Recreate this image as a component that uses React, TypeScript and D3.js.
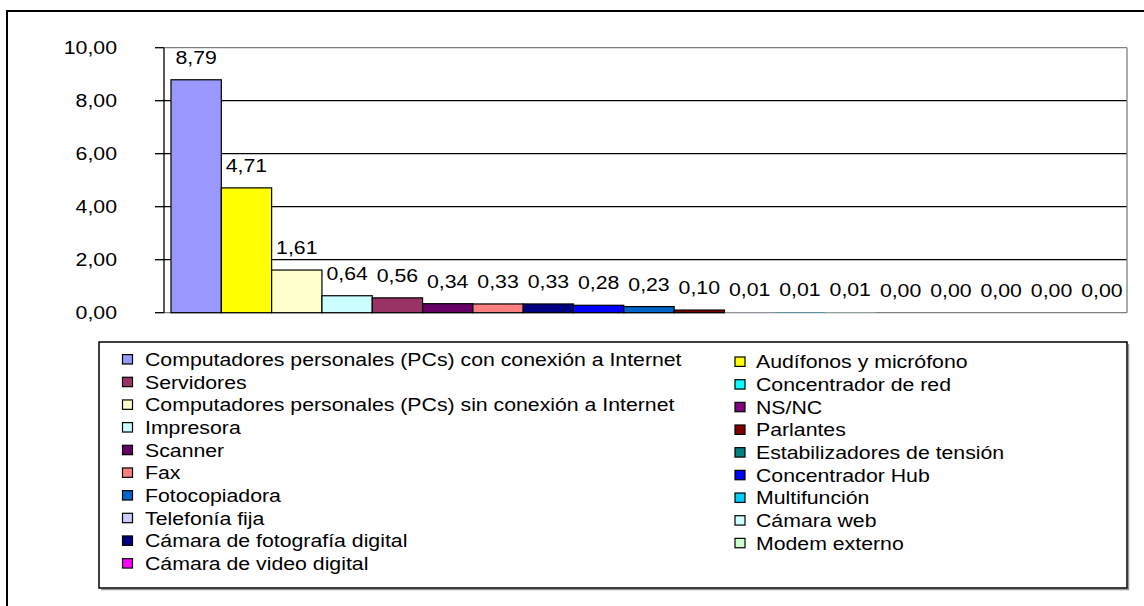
import * as d3 from "d3";

// bars, left to right
const categories = [
  "Computadores personales (PCs) con conexión a Internet",
  "Audífonos y micrófono",
  "Computadores personales (PCs) sin conexión a Internet",
  "Impresora",
  "Servidores",
  "Scanner",
  "Fax",
  "Cámara de fotografía digital",
  "Concentrador Hub",
  "Fotocopiadora",
  "Parlantes",
  "Telefonía fija",
  "Multifunción",
  "Cámara web",
  "Concentrador de red",
  "NS/NC",
  "Estabilizadores de tensión",
  "Cámara de video digital",
  "Modem externo",
];
const values = [8.79, 4.71, 1.61, 0.64, 0.56, 0.34, 0.33, 0.33, 0.28, 0.23, 0.1, 0.01, 0.01, 0.01, 0, 0, 0, 0, 0];
const colors = [
  "#9999FF", "#FFFF00", "#FFFFCC", "#CCFFFF", "#993366", "#660066", "#FF8080",
  "#000080", "#0000FF", "#0066CC", "#800000", "#CCCCFF", "#00CCFF", "#CCFFFF",
  "#00FFFF", "#800080", "#008080", "#FF00FF", "#CCFFCC",
];

// legend columns
const legendLeft = [
  "Computadores personales (PCs) con conexión a Internet",
  "Servidores",
  "Computadores personales (PCs) sin conexión a Internet",
  "Impresora",
  "Scanner",
  "Fax",
  "Fotocopiadora",
  "Telefonía fija",
  "Cámara de fotografía digital",
  "Cámara de video digital",
];
const legendRight = [
  "Audífonos y micrófono",
  "Concentrador de red",
  "NS/NC",
  "Parlantes",
  "Estabilizadores de tensión",
  "Concentrador Hub",
  "Multifunción",
  "Cámara web",
  "Modem externo",
];

const yTicks = [0, 2, 4, 6, 8, 10];

const W = 1144;
const H = 606;
const plot = { left: 164, right: 1127, top: 47.7, bottom: 312.7 };
const FONT = "'Liberation Sans', Arial, sans-serif";
const FS = 18.5;
const SX = 1.15; // the original picture is stretched horizontally

const fmt = d3.formatLocale({ decimal: ",", thousands: ".", grouping: [3], currency: ["", ""] }).format(".2f");

function T({ x, y, anchor = "start", children }) {
  return (
    <text
      transform={`translate(${x},${y}) scale(${SX},1)`}
      textAnchor={anchor}
      fontFamily={FONT}
      fontSize={FS}
      fill="#000"
    >
      {children}
    </text>
  );
}

export default function App() {
  const x = d3.scaleBand().domain(categories).range([171, plot.right]).padding(0);
  const y = d3.scaleLinear().domain([0, 10]).range([plot.bottom, plot.top]);
  const colorOf = d3.scaleOrdinal().domain(categories).range(colors);

  const rowH = 22.67;

  return (
    <svg
      width={W}
      height={H}
      style={{ position: "absolute", left: 0, top: 0, background: "#fff" }}
    >
      <rect x={0} y={0} width={W} height={H} fill="#fff" />
      {/* chart area border, runs off the picture */}
      <rect x={7} y={11} width={W + 40} height={H + 40} fill="none" stroke="#000" strokeWidth={2} />

      {/* grid */}
      {yTicks.filter((t) => t > 0 && t < 10).map((t) => (
        <line key={t} x1={plot.left} x2={plot.right} y1={y(t)} y2={y(t)} stroke="#000" strokeWidth={1.3} />
      ))}
      <line x1={plot.left} x2={plot.right} y1={y(10)} y2={y(10)} stroke="#808080" strokeWidth={1.3} />
      <line x1={plot.right} x2={plot.right} y1={y(10)} y2={y(0)} stroke="#808080" strokeWidth={1.3} />
      <line x1={plot.left} x2={plot.right} y1={y(0)} y2={y(0)} stroke="#808080" strokeWidth={1.3} />

      {/* bars */}
      {categories.map((c, i) => {
        const v = values[i];
        const h = y(0) - y(v);
        return (
          <rect
            key={c}
            x={x(c)}
            y={y(v)}
            width={x.bandwidth()}
            height={h}
            fill={colorOf(c)}
            stroke={h >= 1 ? "#000" : "none"}
            strokeWidth={1.2}
          />
        );
      })}

      {/* value axis */}
      <line x1={plot.left} x2={plot.left} y1={y(10)} y2={y(0)} stroke="#000" strokeWidth={1.3} />
      {yTicks.map((t) => (
        <g key={t}>
          <line x1={plot.left - 9} x2={plot.left} y1={y(t)} y2={y(t)} stroke="#000" strokeWidth={1.3} />
          <T x={117} y={y(t) + 6.5} anchor="end">{fmt(t)}</T>
        </g>
      ))}

      {/* data labels */}
      {categories.map((c, i) => (
        <T key={c} x={x(c) + x.bandwidth() / 2} y={y(values[i]) - 16} anchor="middle">
          {fmt(values[i])}
        </T>
      ))}

      {/* legend */}
      <line x1={101} x2={1129} y1={589.5} y2={589.5} stroke="#999" strokeWidth={1.5} />
      <line x1={1128.5} x2={1128.5} y1={344} y2={590} stroke="#999" strokeWidth={1.5} />
      <rect x={99} y={342} width={1028} height={246} fill="#fff" stroke="#000" strokeWidth={1.5} />
      {legendLeft.map((name, i) => {
        const cy = 359.3 + i * rowH;
        return (
          <g key={name}>
            <rect x={122.5} y={cy - 4.7} width={10} height={9.4} fill={colorOf(name)} stroke="#000" strokeWidth={1.2} />
            <T x={145} y={cy + 6.6}>{name}</T>
          </g>
        );
      })}
      {legendRight.map((name, i) => {
        const cy = 361.7 + i * rowH;
        return (
          <g key={name}>
            <rect x={735} y={cy - 4.7} width={10} height={9.4} fill={colorOf(name)} stroke="#000" strokeWidth={1.2} />
            <T x={756} y={cy + 6.6}>{name}</T>
          </g>
        );
      })}
    </svg>
  );
}
